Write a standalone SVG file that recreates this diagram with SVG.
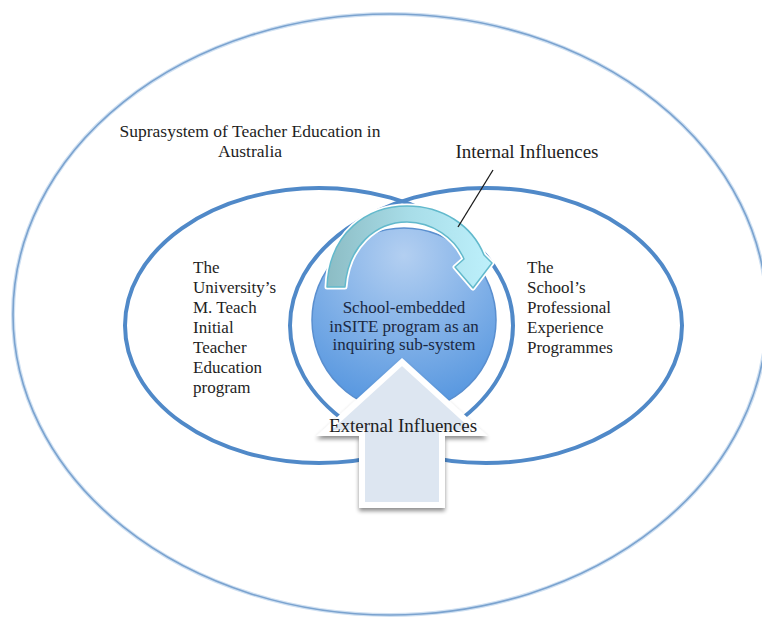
<svg xmlns="http://www.w3.org/2000/svg" width="762" height="619" viewBox="0 0 762 619">
<defs>
<style>
.t{font-family:"Liberation Serif","DejaVu Serif",serif;fill:#1e1e1e;}
.sys{fill:none;stroke:#5089c8;stroke-width:4;}
</style>
<radialGradient id="circ" cx="0.5" cy="0.15" r="0.95">
<stop offset="0" stop-color="#b3cff1"/>
<stop offset="1" stop-color="#4a8fdd"/>
</radialGradient>
<linearGradient id="curve" x1="0" y1="0" x2="1" y2="0">
<stop offset="0" stop-color="#8cbcc4"/>
<stop offset="0.5" stop-color="#a8dde8"/>
<stop offset="1" stop-color="#bdf0fb"/>
</linearGradient>
<filter id="sh" x="-20%" y="-20%" width="140%" height="140%">
<feGaussianBlur in="SourceAlpha" stdDeviation="2"/>
<feOffset dx="0" dy="3"/>
<feComponentTransfer><feFuncA type="linear" slope="0.45"/></feComponentTransfer>
<feMerge><feMergeNode/><feMergeNode in="SourceGraphic"/></feMerge>
</filter>
</defs>
<rect width="762" height="619" fill="#ffffff"/>
<g id="suprasystem">
<ellipse cx="390" cy="314.5" rx="377" ry="300.5" fill="none" stroke="#cfe0f2" stroke-width="4"/>
<ellipse cx="390" cy="314.5" rx="377" ry="300.5" fill="none" stroke="#7ba3cf" stroke-width="1.6"/>
<text class="t" x="250" y="137" font-size="17.5" text-anchor="middle">Suprasystem of Teacher Education in</text>
<text class="t" x="250" y="157" font-size="17.5" text-anchor="middle">Australia</text>
</g>
<g id="university">
<ellipse class="sys" cx="319" cy="325.5" rx="194" ry="137.5"/>
<text class="t" font-size="17"><tspan x="193" y="273">The</tspan><tspan x="193" y="293">University’s</tspan><tspan x="193" y="313">M. Teach</tspan><tspan x="193" y="333">Initial</tspan><tspan x="193" y="353">Teacher</tspan><tspan x="193" y="373">Education</tspan><tspan x="193" y="393">program</tspan></text>
</g>
<g id="school">
<ellipse class="sys" cx="486" cy="325.5" rx="196" ry="137.5"/>
<text class="t" font-size="17"><tspan x="527" y="273">The</tspan><tspan x="527" y="293">School’s</tspan><tspan x="527" y="313">Professional</tspan><tspan x="527" y="333">Experience</tspan><tspan x="527" y="353">Programmes</tspan></text>
</g>
<g id="insite">
<circle cx="404" cy="320" r="92" fill="url(#circ)" stroke="#5a8fcf" stroke-width="1.5"/>
<text class="t" font-size="17" text-anchor="middle" style="fill:#1a2842"><tspan x="404" y="313">School-embedded</tspan><tspan x="404" y="332">inSITE program as an</tspan><tspan x="404" y="350">inquiring sub-system</tspan></text>
</g>
<g id="connectors">
<g id="internal-arrow">
<path d="M327,287 C329,232 368,206 407,206 C442,206 472,225 484,255 L492,263 L473,288 L455,267 L464,259 C455,238 432,222 407,222 C376,222 348,246 345,287 Z" fill="url(#curve)" stroke="#ffffff" stroke-width="5" stroke-linejoin="round"/>
<path d="M327,287 C329,232 368,206 407,206 C442,206 472,225 484,255 L492,263 L473,288 L455,267 L464,259 C455,238 432,222 407,222 C376,222 348,246 345,287 Z" fill="url(#curve)" stroke="#62b9cc" stroke-width="1.5" stroke-linejoin="round"/>
<line x1="493" y1="170" x2="458" y2="227" stroke="#1a1a1a" stroke-width="1.3"/>
</g>
<g id="external-arrow">
<path d="M402,362 L480,433 L442,433 L442,505 L362,505 L362,433 L324,433 Z" fill="#dde6f1" stroke="#ffffff" stroke-width="6" stroke-linejoin="miter" filter="url(#sh)"/>
</g>
</g>
<g id="labels">
<text class="t" x="527" y="158" font-size="19" text-anchor="middle">Internal Influences</text>
<text class="t" x="403" y="432" font-size="19" text-anchor="middle">External Influences</text>
</g>
</svg>
